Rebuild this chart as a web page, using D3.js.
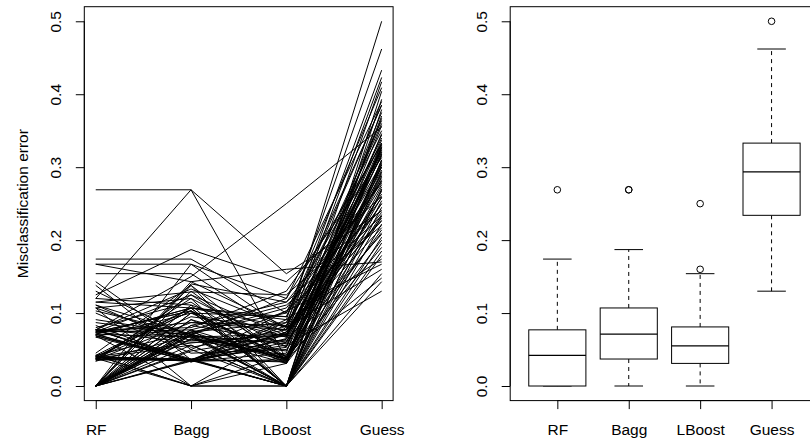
<!DOCTYPE html>
<html>
<head>
<meta charset="utf-8">
<script src="https://cdn.jsdelivr.net/npm/d3@7"></script>
<style>
body{margin:0;background:#fff;}
text{font-family:"Liberation Sans",Arial,sans-serif;font-size:15.5px;fill:#000;}
</style>
</head>
<body>
<script>
//method names and axis ticks
var methods = ["RF", "Bagg", "LBoost", "Guess"];
var yTicks = [0, 0.1, 0.2, 0.3, 0.4, 0.5];

//misclassification error of each replicate, one entry per run
var rf = [0.269,0.12,0.077,0.174,0.167,0.154,0.125,0.167,0.071,
	0,0.038,0.074,0,0.107,0.04,0,0.069,0.036,0,
	0.115,0.042,0.077,0,0.034,0.091,0.04,0,0.071,0.13,
	0,0.038,0.077,0.045,0,0.1,0.037,0.067,0,0.04,
	0.074,0,0.111,0.036,0,0.077,0.042,0.083,0,0.038,
	0.071,0,0.04,0.074,0.138,0,0.034,0.069,0,0.103,
	0.04,0.077,0,0.037,0.067,0,0.107,0.038,0.071,0,
	0.042,0.074,0,0.115,0.036,0,0.077,0.04,0.08,0,
	0.038,0.069,0,0.087,0.042,0.074,0,0.04,0.077,0.143,
	0,0.111,0.071,0,0.107,0.074,0,0.12,0,0.077,
	0];
var bagg = [0.269,0.269,0.15,0.174,0.167,0.154,0.187,0.143,0.107,
	0.071,0.036,0.103,0.056,0.12,0.034,0.069,0,0.087,0.036,
	0.107,0.074,0.034,0.05,0.125,0.071,0.036,0.083,0.033,0.067,
	0.111,0,0.035,0.138,0.069,0.045,0.036,0.1,0.077,0.034,
	0.103,0.064,0.053,0.036,0.13,0.071,0,0.034,0.091,0.107,
	0.067,0.035,0.059,0.077,0.036,0.143,0.069,0.033,0.1,0.071,
	0.103,0.037,0.048,0.12,0.034,0.074,0,0.095,0.036,0.065,
	0.107,0.06,0.071,0.129,0.035,0.083,0.067,0.037,0.115,0.074,
	0.056,0.036,0.138,0.069,0,0.087,0.034,0.103,0.08,0.05,
	0.167,0.071,0.107,0.091,0.062,0.125,0.077,0.111,0.1,0.133,
	0.14];
var lboost = [0.154,0.037,0.25,0.1,0.12,0.071,0.143,0.16,0.081,
	0,0.071,0.038,0,0.054,0.103,0,0.031,0.077,0.087,
	0,0.036,0.045,0,0.069,0.034,0,0.115,0.06,0.031,
	0,0.074,0.083,0,0.037,0.05,0,0.067,0.038,0.091,
	0,0.042,0.077,0,0.035,0.12,0,0.064,0.031,0.095,
	0,0.056,0.071,0,0.034,0.081,0,0.074,0.04,0.107,
	0,0.053,0.069,0,0.036,0.087,0,0.077,0.033,0.048,
	0,0.062,0.038,0.125,0,0.06,0.071,0,0.031,0.1,
	0,0.074,0.036,0.058,0.043,0.083,0.065,0.034,0.13,0.103,
	0.077,0.037,0.091,0.054,0.069,0.04,0.111,0.067,0.095,0.08,
	0.115];
var guess = [0.24,0.3,0.355,0.409,0.331,0.29,0.26,0.17,0.5,
	0.31,0.263,0.357,0.222,0.326,0.167,0.245,0.294,0.34,0.281,
	0.204,0.318,0.417,0.379,0.25,0.19,0.303,0.233,0.276,0.346,
	0.333,0.238,0.3,0.143,0.367,0.21,0.269,0.321,0.333,0.462,
	0.308,0.286,0.227,0.179,0.328,0.39,0.254,0.296,0.2,0.35,
	0.27,0.13,0.315,0.404,0.235,0.364,0.33,0.217,0.304,0.278,
	0.196,0.337,0.323,0.233,0.259,0.385,0.293,0.433,0.288,0.317,
	0.154,0.208,0.37,0.241,0.31,0.344,0.23,0.185,0.273,0.333,
	0.393,0.306,0.214,0.25,0.148,0.324,0.36,0.283,0.313,0.226,
	0.258,0.327,0.174,0.375,0.423,0.267,0.22,0.32,0.385,0.16,
	0.28];

var series = [rf, bagg, lboost, guess];

var width = 810,
	height = 439;

var svg = d3.select("body")
	.append("svg")
	.attr("width", width)
	.attr("height", height);

//scales (R style: 4% padding around the data range)
var y = d3.scaleLinear().domain([-0.02, 0.52]).range([400.6, 6.7]);
var xLeft = d3.scaleLinear().domain([0.88, 4.12]).range([84.3, 393.1]);
var xRight = d3.scaleLinear().domain([0.34, 4.66]).range([510.2, 818.7]);

//draws an R looking y axis with rotated labels
function yAxis(x0){
	var g = svg.append("g")
		.attr("transform", "translate(" + x0 + ",0)")
		.call(d3.axisLeft(y).tickValues(yTicks).tickSize(8.5).tickSizeOuter(0).tickFormat(d3.format(".1f")));
	g.select(".domain").attr("d", "M0," + y(0) + "V" + y(0.5)).attr("stroke", "#000");
	g.selectAll(".tick line").attr("stroke", "#000");
	g.selectAll(".tick text")
		.attr("transform", "rotate(-90)")
		.attr("x", 0)
		.attr("y", -23.5)
		.attr("dy", null)
		.attr("text-anchor", "middle")
		.style("font-size", "15.5px")
		.style("font-family", "'Liberation Sans',Arial,sans-serif");
	g.attr("font-size", null).attr("font-family", null);
}

//x axis with method names
function xAxis(scale){
	var g = svg.append("g")
		.attr("transform", "translate(0," + y(-0.02) + ")")
		.call(d3.axisBottom(scale).tickValues([1, 2, 3, 4]).tickSize(8.5).tickSizeOuter(0)
			.tickFormat(function(d){ return methods[d - 1]; }));
	g.select(".domain").attr("d", "M" + scale(1) + ",0H" + scale(4)).attr("stroke", "#000");
	g.selectAll(".tick line").attr("stroke", "#000");
	g.selectAll(".tick text")
		.attr("y", 34.4)
		.attr("dy", null)
		.style("font-size", "15.5px")
		.style("font-family", "'Liberation Sans',Arial,sans-serif");
	g.attr("font-size", null).attr("font-family", null);
}

//---- left panel: one line per replicate
var line = d3.line()
	.x(function(d, i){ return xLeft(i + 1); })
	.y(function(d){ return y(d); });

var rows = rf.map(function(d, i){
	return [rf[i], bagg[i], lboost[i], guess[i]];
});

svg.append("g").selectAll(".run")
	.data(rows)
	.enter()
	.append("path")
	.attr("class", "run")
	.attr("d", line)
	.attr("fill", "none")
	.attr("stroke", "#000")
	.attr("stroke-width", 1);

svg.append("rect")
	.attr("x", xLeft(0.88)).attr("y", y(0.52))
	.attr("width", xLeft(4.12) - xLeft(0.88))
	.attr("height", y(-0.02) - y(0.52))
	.attr("fill", "none").attr("stroke", "#000");

yAxis(xLeft(0.88));
xAxis(xLeft);

svg.append("text")
	.attr("transform", "translate(28," + (y(0.25)) + ") rotate(-90)")
	.attr("text-anchor", "middle")
	.text("Misclassification error");

//---- right panel: boxplots
//R's fivenum hinges
function fivenum(v){
	var s = v.slice().sort(d3.ascending),
		n = s.length,
		n4 = Math.floor((n + 3) / 2) / 2,
		d = [1, n4, (n + 1) / 2, n + 1 - n4, n];
	return d.map(function(k){
		return 0.5 * (s[Math.floor(k) - 1] + s[Math.ceil(k) - 1]);
	});
}

var stats = series.map(function(v, i){
	var f = fivenum(v),
		iqr = f[3] - f[1],
		lo = f[1] - 1.5 * iqr,
		hi = f[3] + 1.5 * iqr,
		inside = v.filter(function(d){ return d >= lo && d <= hi; });
	return {
		pos: i + 1,
		q1: f[1], med: f[2], q3: f[3],
		wlo: d3.min(inside), whi: d3.max(inside),
		out: v.filter(function(d){ return d < lo || d > hi; })
	};
});

var bp = svg.append("g").selectAll(".bp")
	.data(stats)
	.enter()
	.append("g")
	.attr("class", "bp");

//whiskers
bp.append("line")
	.attr("x1", function(d){ return xRight(d.pos); })
	.attr("x2", function(d){ return xRight(d.pos); })
	.attr("y1", function(d){ return y(d.q3); })
	.attr("y2", function(d){ return y(d.whi); })
	.attr("stroke", "#000").attr("stroke-dasharray", "4,4");
bp.append("line")
	.attr("x1", function(d){ return xRight(d.pos); })
	.attr("x2", function(d){ return xRight(d.pos); })
	.attr("y1", function(d){ return y(d.q1); })
	.attr("y2", function(d){ return y(d.wlo); })
	.attr("stroke", "#000").attr("stroke-dasharray", "4,4");
//staples
bp.each(function(d){
	var g = d3.select(this);
	[d.whi, d.wlo].forEach(function(v){
		g.append("line")
			.attr("x1", xRight(d.pos - 0.2)).attr("x2", xRight(d.pos + 0.2))
			.attr("y1", y(v)).attr("y2", y(v))
			.attr("stroke", "#000");
	});
	d.out.forEach(function(v){
		g.append("circle")
			.attr("cx", xRight(d.pos)).attr("cy", y(v)).attr("r", 3.3)
			.attr("fill", "none").attr("stroke", "#000");
	});
});
//box
bp.append("rect")
	.attr("x", function(d){ return xRight(d.pos - 0.4); })
	.attr("width", function(d){ return xRight(d.pos + 0.4) - xRight(d.pos - 0.4); })
	.attr("y", function(d){ return y(d.q3); })
	.attr("height", function(d){ return y(d.q1) - y(d.q3); })
	.attr("fill", "#fff").attr("stroke", "#000");
//median
bp.append("line")
	.attr("x1", function(d){ return xRight(d.pos - 0.4); })
	.attr("x2", function(d){ return xRight(d.pos + 0.4); })
	.attr("y1", function(d){ return y(d.med); })
	.attr("y2", function(d){ return y(d.med); })
	.attr("stroke", "#000").attr("stroke-width", 1.3);

svg.append("rect")
	.attr("x", xRight(0.34)).attr("y", y(0.52))
	.attr("width", xRight(4.66) - xRight(0.34))
	.attr("height", y(-0.02) - y(0.52))
	.attr("fill", "none").attr("stroke", "#000");

yAxis(xRight(0.34));
xAxis(xRight);
</script>
</body>
</html>
